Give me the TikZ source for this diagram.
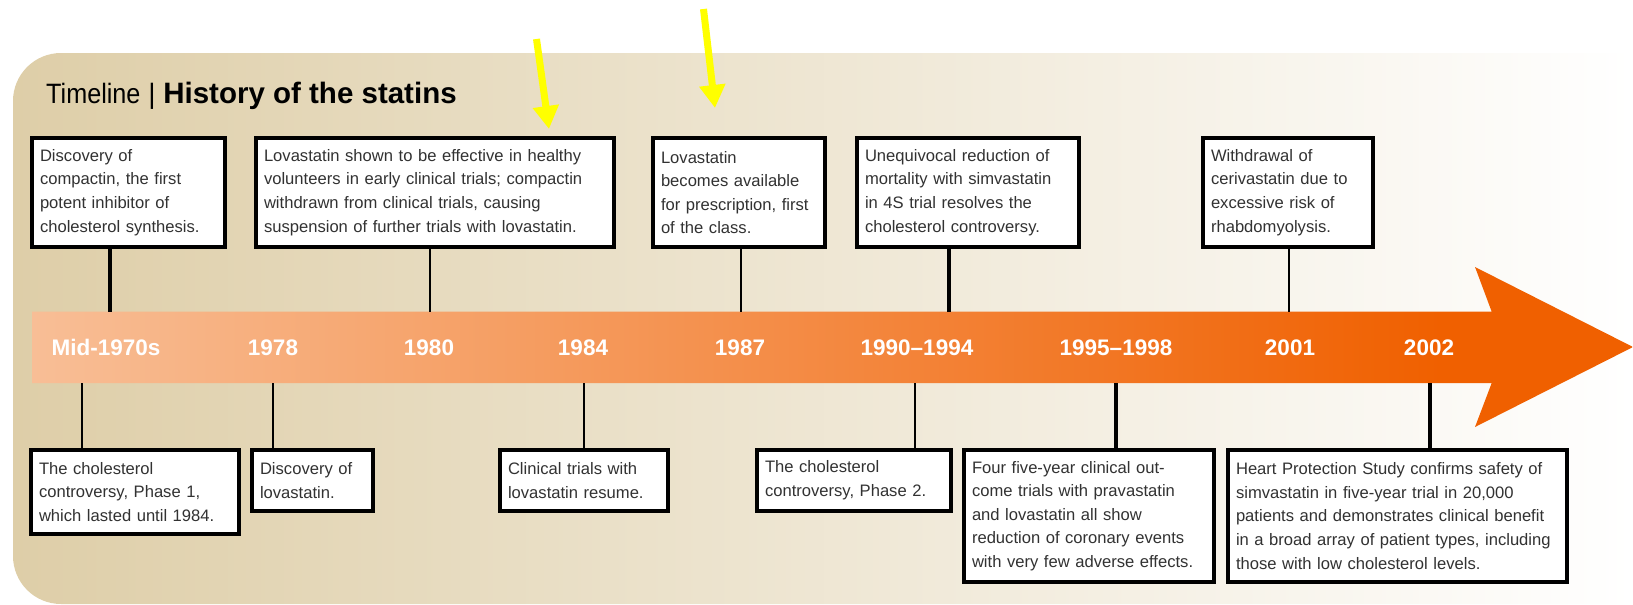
\documentclass[tikz,border=0pt]{standalone}
\usepackage{fontspec}
\setmainfont{Liberation Sans}
\usepackage{graphicx}
\usetikzlibrary{arrows.meta}

\definecolor{panelL}{RGB}{222,206,168}
\definecolor{arrowL}{RGB}{248,190,150}
\definecolor{arrowR}{RGB}{240,96,0}
\definecolor{boxtext}{RGB}{50,50,50}
\definecolor{marker}{RGB}{255,255,0}

% orange gradient of the time arrow: light on the left, solid towards the head
\pgfdeclarehorizontalshading{arrowshade}{100bp}{color(0bp)=(arrowL); color(25bp)=(arrowL); color(69bp)=(arrowR); color(100bp)=(arrowR)}

\newcommand{\boxfont}{\fontsize{16.6}{23.6}\selectfont}
\newcommand{\yearfont}{\fontsize{22.5}{26}\selectfont\bfseries}

\begin{document}
\begin{tikzpicture}[x=1pt,y=-1pt,
  evbox/.style={draw=black, line width=3.4pt, fill=white, anchor=north west,
    outer sep=0pt, inner xsep=8pt, inner ysep=0pt, align=left,
    font=\boxfont, text=boxtext},
  year/.style={anchor=base, inner sep=0pt, text=white, font=\yearfont},
  thickstem/.style={draw=black, line width=3.4pt},
  thinstem/.style={draw=black, line width=1.8pt},
  marker/.style={draw=marker, line width=7pt,
    -{Triangle[length=23pt 0 0, width=25pt 0]}}
]
\useasboundingbox (0,0) rectangle (1633,605);

% background panel, rounded on the left, fading to white
\shade[left color=panelL, right color=white]
  (1633,53) [rounded corners=48pt] -- (13,53) -- (13,604) [sharp corners] -- (1633,604) -- cycle;

% the time arrow
\shade[shading=arrowshade]
  (32,311.7) -- (1491.7,311.7) -- (1475,267) -- (1633,347) -- (1475,427)
  -- (1491.7,383) -- (32,383) -- cycle;

% title
\node[anchor=base west, inner sep=0pt, font=\fontsize{28}{32}\selectfont] (title) at (46,103)
  {\scalebox{0.9}[1]{Timeline} \textbar{} {\fontsize{29.5}{32}\selectfont\bfseries History of the statins}};

% year labels
\node[year] (y1) at (106,355) {Mid-1970s};
\node[year] (y2) at (273,355) {1978};
\node[year] (y3) at (429,355) {1980};
\node[year] (y4) at (583,355) {1984};
\node[year] (y5) at (740,355) {1987};
\node[year] (y6) at (917,355) {1990–1994};
\node[year] (y7) at (1116,355) {1995–1998};
\node[year] (y8) at (1290,355) {2001};
\node[year] (y9) at (1429,355) {2002};

% stem ends on the arrow edges
\coordinate (t1) at (110,311.7);
\coordinate (t2) at (430,311.7);
\coordinate (t3) at (741,311.7);
\coordinate (t4) at (949,311.7);
\coordinate (t5) at (1288.6,311.7);
\coordinate (s1) at (81.6,383);
\coordinate (s2) at (273,383);
\coordinate (s3) at (583.7,383);
\coordinate (s4) at (915,383);
\coordinate (s5) at (1116,383);
\coordinate (s6) at (1430,383);

% events above the arrow
\node[evbox, text width=177pt, minimum height=109pt] (u1) at (32,138)
  {Discovery of\\compactin, the first\\potent inhibitor of\\cholesterol synthesis.};
\node[evbox, text width=342pt, minimum height=109pt] (u2) at (256,138)
  {Lovastatin shown to be effective in healthy\\volunteers in early clinical trials; compactin\\withdrawn from clinical trials, causing\\suspension of further trials with lovastatin.};
\node[evbox, text width=156pt, minimum height=109pt] (u3) at (653,138)
  {Lovastatin\\becomes available\\for prescription, first\\of the class.};
\node[evbox, text width=206pt, minimum height=109pt] (u4) at (857,138)
  {Unequivocal reduction of\\mortality with simvastatin\\in 4S trial resolves the\\cholesterol controversy.};
\node[evbox, text width=154pt, minimum height=109pt] (u5) at (1203,138)
  {Withdrawal of\\cerivastatin due to\\excessive risk of\\rhabdomyolysis.};

% events below the arrow
\node[evbox, text width=192pt, minimum height=84pt] (b1) at (31,450)
  {The cholesterol\\controversy, Phase 1,\\which lasted until 1984.};
\node[evbox, text width=105pt, minimum height=61pt] (b2) at (252,450)
  {Discovery of\\lovastatin.};
\node[evbox, text width=152pt, minimum height=61pt] (b3) at (500,450)
  {Clinical trials with\\lovastatin resume.};
\node[evbox, text width=178pt, minimum height=61pt] (b4) at (757,450)
  {The cholesterol\\controversy, Phase 2.};
\node[evbox, text width=234pt, minimum height=132pt] (b5) at (964,450)
  {Four five-year clinical out-\\come trials with pravastatin\\and lovastatin all show\\reduction of coronary events\\with very few adverse effects.};
\node[evbox, text width=323pt, minimum height=132pt] (b6) at (1228,450)
  {Heart Protection Study confirms safety of\\simvastatin in five-year trial in 20,000\\patients and demonstrates clinical benefit\\in a broad array of patient types, including\\those with low cholesterol levels.};

% stems joining the boxes to the arrow
\draw[thickstem] (u1.south -| t1) -- (t1);
\draw[thinstem]  (u2.south -| t2) -- (t2);
\draw[thinstem]  (u3.south -| t3) -- (t3);
\draw[thickstem] (u4.south -| t4) -- (t4);
\draw[thinstem]  (u5.south -| t5) -- (t5);
\draw[thinstem]  (s1) -- (b1.north -| s1);
\draw[thinstem]  (s2) -- (b2.north -| s2);
\draw[thinstem]  (s3) -- (b3.north -| s3);
\draw[thinstem]  (s4) -- (b4.north -| s4);
\draw[thickstem] (s5) -- (b5.north -| s5);
\draw[thickstem] (s6) -- (b6.north -| s6);

% yellow pointers
\coordinate (m1a) at (536.5,39);
\coordinate (m1b) at (549,129);
\coordinate (m2a) at (703.5,9);
\coordinate (m2b) at (715,108);
\draw[marker] (m1a) -- (m1b);
\draw[marker] (m2a) -- (m2b);
\end{tikzpicture}
\end{document}
